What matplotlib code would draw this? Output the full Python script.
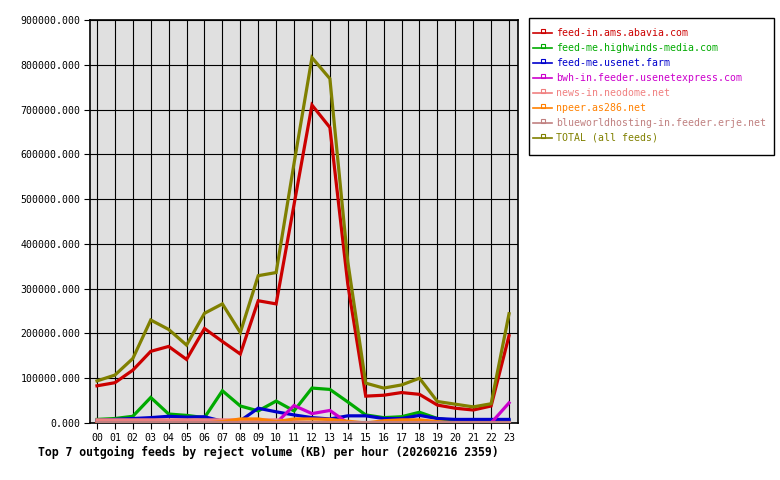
import matplotlib
matplotlib.use("Agg")
import matplotlib.pyplot as plt
from matplotlib.lines import Line2D
from matplotlib.patches import Rectangle

hours = ["%02d" % h for h in range(24)]

# KB rejected per hour
abavia = [83000, 90000, 118000, 160000, 171000, 142000, 211000, 182000, 154000, 273000, 266000, 488000,
          710000, 660000, 310000, 60000, 62000, 68000, 64000, 40000, 33000, 29000, 38000, 195000]
highwinds = [8000, 10000, 15000, 57000, 20000, 17000, 12000, 72000, 38000, 27000, 49000, 27000,
             78000, 75000, 47000, 18000, 12000, 14000, 24000, 10000, 5000, 5000, 5000, 5000]
usenetfarm = [6000, 8000, 10000, 12000, 15000, 13000, 14000, 4000, 5000, 33000, 25000, 18000,
              12000, 9000, 16000, 16000, 10000, 10000, 17000, 10000, 8000, 8000, 8000, 8000]
usenetexpress = [0, 0, 0, 0, 0, 0, 0, 0, 0, 0, 0, 39000,
                 21000, 28000, 0, 0, 0, 0, 0, 0, 0, 0, 0, 45000]
neodome = [7000, 7000, 7000, 7000, 7000, 7000, 7000, 7000, 7000, 7000, 7000, 3000,
           0, 0, 0, 0, 0, 0, 0, 0, 0, 0, 0, 0]
as286 = [0, 0, 0, 0, 0, 0, 0, 3000, 9000, 9000, 3000, 9000,
         9000, 8000, 4000, 0, 5000, 7000, 7000, 3000, 0, 0, 0, 0]
erje = [3000] * 24
total = [94000, 107000, 144000, 230000, 209000, 174000, 245000, 266000, 202000, 329000, 336000, 580000,
         816000, 769000, 360000, 89000, 78000, 85000, 100000, 48000, 42000, 36000, 43000, 244000]

feeds = [
    ("feed-in.ams.abavia.com", abavia, "#cc0000"),
    ("feed-me.highwinds-media.com", highwinds, "#00aa00"),
    ("feed-me.usenet.farm", usenetfarm, "#0000cc"),
    ("bwh-in.feeder.usenetexpress.com", usenetexpress, "#cc00cc"),
    ("news-in.neodome.net", neodome, "#f08080"),
    ("npeer.as286.net", as286, "#ff8000"),
    ("blueworldhosting-in.feeder.erje.net", erje, "#c08080"),
    ("TOTAL (all feeds)", total, "#808000"),
]

mono = "DejaVu Sans Mono"
W, H = 780, 480
fig = plt.figure(figsize=(W / 100, H / 100), dpi=100)
ax = fig.add_axes([90 / W, (H - 423) / H, 428 / W, 403 / H])
ax.set_facecolor("#e0e0e0")

x = list(range(24))
for name, vals, col in feeds:
    ax.plot(x, vals, color=col, lw=2.3, solid_joinstyle="miter", zorder=3)

ax.set_xlim(-0.39, 23.5)
ax.set_ylim(0, 900000)
ax.set_xticks(x)
ax.set_xticklabels(hours, fontfamily=mono, fontsize=7.1)
ax.set_yticks(range(0, 900001, 100000))
ax.set_yticklabels(["%d.000" % v for v in range(0, 900001, 100000)], fontfamily=mono, fontsize=7.1)
ax.grid(True, color="black", lw=0.8, zorder=1)
ax.set_axisbelow(True)
ax.tick_params(direction="out", length=4, width=0.8, color="black", pad=3)
for s in ax.spines.values():
    s.set_linewidth(1.2)

fig.text(268 / W, 1 - 452 / H, "Top 7 outgoing feeds by reject volume (KB) per hour (20260216 2359)",
         ha="center", va="center", fontfamily=mono, fontsize=8.3, fontweight="bold")

# legend box drawn by hand, like the rrd-style original
fig.patches.append(Rectangle((529 / W, 1 - 155 / H), 245 / W, 137 / H, transform=fig.transFigure,
                             fill=False, edgecolor="black", lw=1.0))
for i, (name, vals, col) in enumerate(feeds):
    yy = 1 - (33 + 15 * i) / H
    fig.lines.append(Line2D([533 / W, 552 / W], [yy, yy], transform=fig.transFigure, color=col, lw=1.2))
    fig.lines.append(Line2D([542.5 / W], [yy + 1.5 / H], transform=fig.transFigure, color=col,
                            marker="s", markersize=2.5, markerfacecolor="none", markeredgewidth=0.8))
    fig.text(556 / W, yy, name, color=col, fontfamily=mono, fontsize=7.1, va="center", ha="left")

fig.savefig("out.png", dpi=100)
